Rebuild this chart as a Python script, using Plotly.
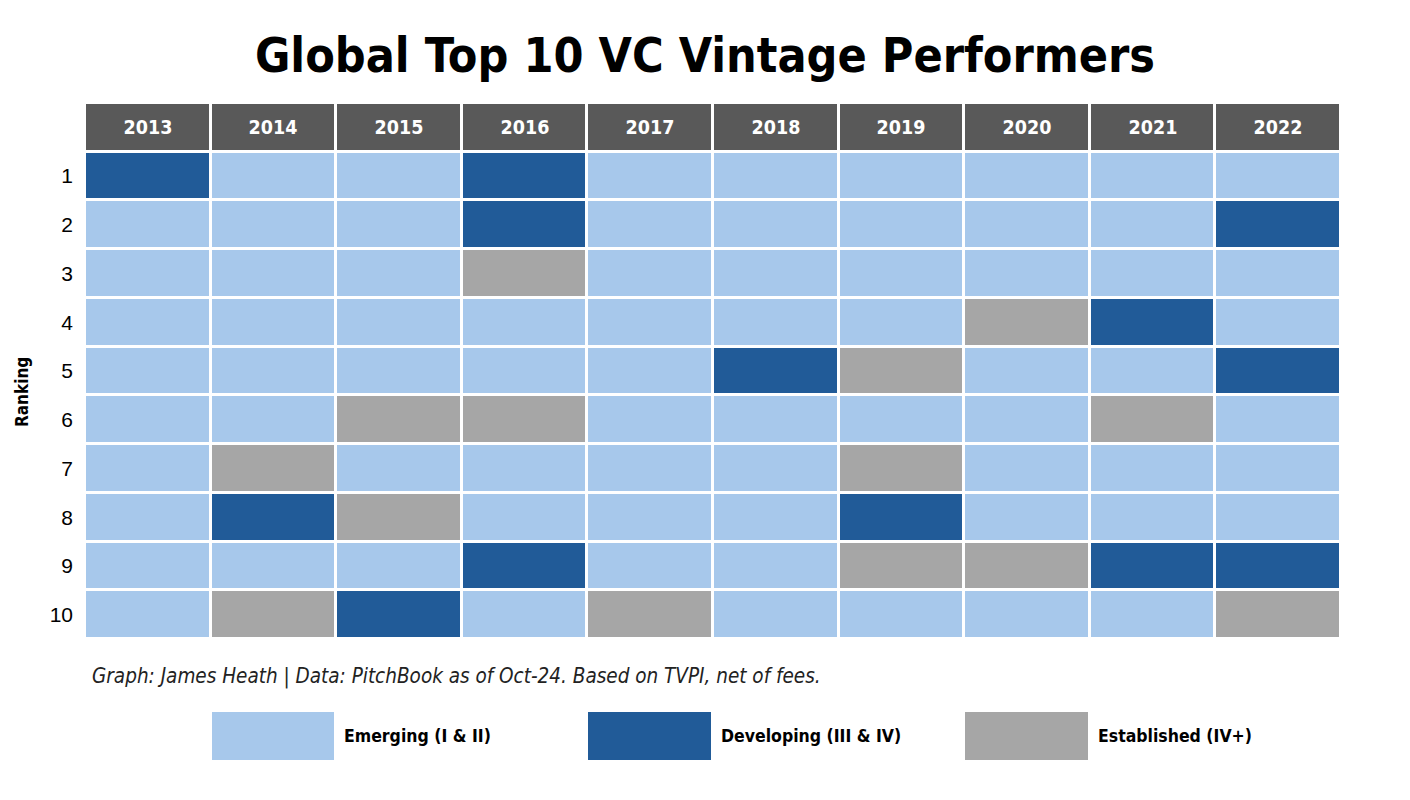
import plotly.graph_objects as go

years = ["2013", "2014", "2015", "2016", "2017", "2018", "2019", "2020", "2021", "2022"]
ranks = ["1", "2", "3", "4", "5", "6", "7", "8", "9", "10"]
# E = Emerging, D = Developing, G = Established
rank_1 = ["D", "E", "E", "D", "E", "E", "E", "E", "E", "E"]
rank_2 = ["E", "E", "E", "D", "E", "E", "E", "E", "E", "D"]
rank_3 = ["E", "E", "E", "G", "E", "E", "E", "E", "E", "E"]
rank_4 = ["E", "E", "E", "E", "E", "E", "E", "G", "D", "E"]
rank_5 = ["E", "E", "E", "E", "E", "D", "G", "E", "E", "D"]
rank_6 = ["E", "E", "G", "G", "E", "E", "E", "E", "G", "E"]
rank_7 = ["E", "G", "E", "E", "E", "E", "G", "E", "E", "E"]
rank_8 = ["E", "D", "G", "E", "E", "E", "D", "E", "E", "E"]
rank_9 = ["E", "E", "E", "D", "E", "E", "G", "G", "D", "D"]
rank_10 = ["E", "G", "D", "E", "G", "E", "E", "E", "E", "G"]
grid = [rank_1, rank_2, rank_3, rank_4, rank_5, rank_6, rank_7, rank_8, rank_9, rank_10]

legend_codes = ["E", "D", "G"]
legend_labels = ["Emerging (I & II)", "Developing (III & IV)", "Established (IV+)"]
legend_years = ["2014", "2017", "2020"]

C_E = "#A7C8EB"
C_D = "#215B98"
C_G = "#A6A6A6"
C_H = "#595959"
code_val = {"E": 0, "D": 1, "G": 2, "H": 3}
cscale = [[0, C_E], [1/6, C_E], [1/6, C_D], [0.5, C_D], [0.5, C_G], [5/6, C_G], [5/6, C_H], [1, C_H]]

COND = "DejaVu Sans Condensed"
W, H = 1410, 800
ML, MR = 85, 69
PW = W - ML - MR

y_cats = [" "] + ranks
z = [[3] * len(years)] + [[code_val[c] for c in row] for row in grid]
text = [years] + [[""] * len(years) for _ in grid]

fig = go.Figure()
fig.add_trace(go.Heatmap(
    x=years, y=y_cats, z=z, text=text, texttemplate="%{text}",
    textfont=dict(family=COND, size=19.5, color="white", weight="bold"),
    colorscale=cscale, zmin=0, zmax=3, showscale=False,
    xgap=3, ygap=3, hoverinfo="skip",
))

# legend row
lz = [[None] * len(years)]
for yr, code in zip(legend_years, legend_codes):
    lz[0][years.index(yr)] = code_val[code]
fig.add_trace(go.Heatmap(
    x=years, y=["leg"], z=lz, colorscale=cscale, zmin=0, zmax=3, showscale=False,
    xgap=3, ygap=0, hoverinfo="skip", xaxis="x", yaxis="y2",
))
for yr, lab in zip(legend_years, legend_labels):
    i = years.index(yr) + 1
    fig.add_annotation(x=(i + 0.05) / len(years), y=1 - 736 / H, xref="paper", yref="paper",
                       text="<b>" + lab + "</b>", showarrow=False, xanchor="left", yanchor="middle",
                       font=dict(family=COND, size=17.5, color="black"))

fig.add_annotation(x=(90 - ML) / PW, y=1 - 676 / H, xref="paper", yref="paper",
                   text="<i>Graph: James Heath | Data: PitchBook as of Oct-24. Based on TVPI, net of fees.</i>",
                   showarrow=False, xanchor="left", yanchor="middle",
                   font=dict(family=COND, size=20.5, color="#222222"))

fig.add_annotation(x=(22 - ML) / PW, y=1 - 392 / H, xref="paper", yref="paper",
                   text="<b>Ranking</b>", textangle=-90, showarrow=False,
                   xanchor="center", yanchor="middle",
                   font=dict(family=COND, size=17, color="black"))

fig.update_layout(
    width=W, height=H,
    margin=dict(l=ML, r=MR, t=0, b=0),
    paper_bgcolor="white", plot_bgcolor="white",
    title=dict(text="<b>Global Top 10 VC Vintage Performers</b>", x=0.5, xanchor="center",
               y=1 - 55 / H, yanchor="middle",
               font=dict(family=COND, size=48, color="black")),
    xaxis=dict(type="category", showticklabels=False, showgrid=False, zeroline=False,
               range=[-0.5, 9.5], automargin=False),
    yaxis=dict(type="category", categoryorder="array", categoryarray=y_cats, autorange="reversed",
               domain=[1 - 639 / H, 1 - 103 / H], showgrid=False, zeroline=False, automargin=False,
               tickfont=dict(family="Liberation Sans", size=21, color="black"), ticks="", ticklen=0,
               ticklabelstandoff=11),
    yaxis2=dict(type="category", domain=[1 - 760 / H, 1 - 712 / H], showticklabels=False,
                showgrid=False, zeroline=False, anchor="x", automargin=False),
)
fig.write_html("out.html", config={"displayModeBar": False},
               post_script="document.body.style.margin='0';document.body.style.overflow='hidden';")
